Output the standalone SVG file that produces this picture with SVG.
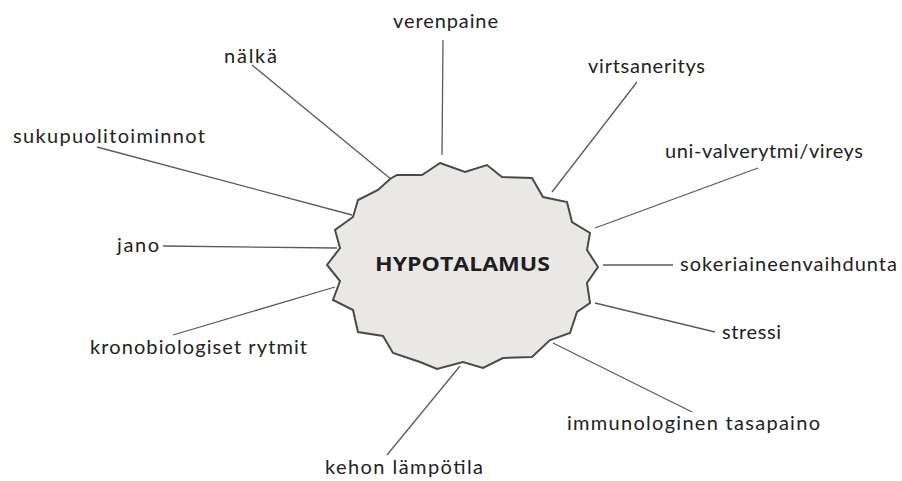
<svg xmlns="http://www.w3.org/2000/svg" width="902" height="481" viewBox="0 0 902 481">
<style>
.lbl{font-family:Lato,"Open Sans","Liberation Sans",sans-serif;font-size:20px;fill:#222}
.ttl{font-family:"Open Sans","Liberation Sans",sans-serif;font-size:20px;font-weight:bold;fill:#1e1e1e}
.con line{stroke:#5a5a5a;stroke-width:1.3}
</style>
<rect width="902" height="481" fill="#ffffff"/>
<g id="connectors" class="con">
<line x1="443" y1="40" x2="442" y2="155"/>
<line x1="252" y1="65" x2="392" y2="180"/>
<line x1="97" y1="147" x2="352" y2="215"/>
<line x1="163" y1="246" x2="337" y2="248"/>
<line x1="173" y1="335" x2="335" y2="287"/>
<line x1="387" y1="455" x2="460" y2="366"/>
<line x1="637" y1="82" x2="552" y2="192"/>
<line x1="758" y1="168" x2="595" y2="228"/>
<line x1="603" y1="265" x2="673" y2="265"/>
<line x1="595" y1="303" x2="715" y2="332"/>
<line x1="553" y1="343" x2="692" y2="412"/>
</g>
<g id="hypotalamus">
<polygon points="440,163 465,172 487,165 502,177 532,178 543,197 567,202 572,222 590,233 587,250 598,267 587,283 590,303 577,312 570,333 550,340 532,357 503,358 483,368 463,362 437,369 420,362 393,353 383,336 358,332 353,310 333,300 340,281 327,265 340,248 335,230 353,217 358,200 378,190 390,179 397,175 422,175" fill="#eae8e4" stroke="#4a4a4a" stroke-width="2" stroke-linejoin="miter"/>
<text class="ttl" x="375" y="271" textLength="175" lengthAdjust="spacingAndGlyphs">HYPOTALAMUS</text>
</g>
<g id="verenpaine"><text class="lbl" x="393" y="28" textLength="105" lengthAdjust="spacing">verenpaine</text></g>
<g id="nalka"><text class="lbl" x="224" y="63" textLength="53" lengthAdjust="spacing">nälkä</text></g>
<g id="sukupuolitoiminnot"><text class="lbl" x="13" y="143" textLength="192" lengthAdjust="spacing">sukupuolitoiminnot</text></g>
<g id="virtsaneritys"><text class="lbl" x="588" y="73" textLength="117" lengthAdjust="spacing">virtsaneritys</text></g>
<g id="uni-valverytmi"><text class="lbl" x="665" y="158" textLength="198" lengthAdjust="spacing">uni-valverytmi/vireys</text></g>
<g id="jano"><text class="lbl" x="117" y="252" textLength="42" lengthAdjust="spacing">jano</text></g>
<g id="sokeriaineenvaihdunta"><text class="lbl" x="680" y="271" textLength="217" lengthAdjust="spacing">sokeriaineenvaihdunta</text></g>
<g id="kronobiologiset"><text class="lbl" x="90" y="354" textLength="217" lengthAdjust="spacing">kronobiologiset rytmit</text></g>
<g id="stressi"><text class="lbl" x="722" y="339" textLength="59" lengthAdjust="spacing">stressi</text></g>
<g id="immunologinen"><text class="lbl" x="567" y="430" textLength="253" lengthAdjust="spacing">immunologinen tasapaino</text></g>
<g id="kehon"><text class="lbl" x="325" y="474" textLength="158" lengthAdjust="spacing">kehon lämpötila</text></g>
</svg>
